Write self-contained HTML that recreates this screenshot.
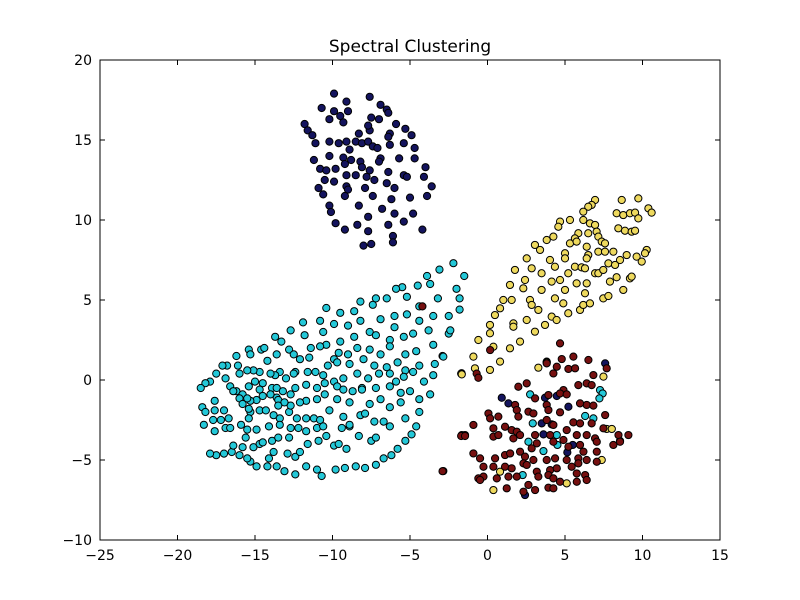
<!DOCTYPE html>
<html><head><meta charset="utf-8"><style>
html,body{margin:0;padding:0;background:#fff;}
svg{display:block;font-family:"DejaVu Sans","Liberation Sans",sans-serif;}
</style></head><body>
<svg id="chart" width="800" height="600">
<rect x="0" y="0" width="800" height="600" fill="#fff"/>
<text x="410" y="52" text-anchor="middle" font-size="17">Spectral Clustering</text>
<g id="ticks"></g>
<g id="points"></g>
<rect x="100" y="60" width="620" height="480" fill="none" stroke="#000" stroke-width="1"/>
</svg>
<script>
const xTicks=[-25,-20,-15,-10,-5,0,5,10,15];
const yTicks=[-10,-5,0,5,10,15,20];
const colors=["#14145e","#24c8d8","#eed95e","#761010"];
const navyPts=[[-9.9,17.9],[-7.6,17.7],[-6.9,17.2],[-10.7,17.0],[-9.1,17.4],[-9.9,16.8],[-9.0,16.8],[-9.5,16.5],[-9.3,16.1],[-10.2,16.3],[-7.5,16.4],[-7.0,16.3],[-6.5,16.9],[-6.4,16.7],[-11.8,16.0],[-11.6,15.6],[-11.3,15.3],[-11.1,14.8],[-10.2,14.9],[-9.6,14.8],[-9.1,14.9],[-8.5,14.9],[-8.1,14.8],[-7.7,14.9],[-7.4,14.6],[-7.1,14.5],[-8.9,14.4],[-8.3,15.4],[-7.6,15.6],[-7.7,15.9],[-6.3,15.4],[-6.4,15.2],[-5.9,16.0],[-5.3,15.7],[-4.9,15.3],[-6.3,14.7],[-5.4,14.8],[-4.7,14.5],[-11.2,13.75],[-10.2,14.0],[-9.3,13.9],[-8.8,13.75],[-8.2,13.65],[-8.1,13.3],[-9.2,13.5],[-6.9,13.85],[-7.0,13.65],[-5.7,13.85],[-4.7,13.85],[-10.8,13.2],[-10.4,13.1],[-9.8,13.2],[-7.6,13.1],[-6.4,13.0],[-5.4,12.8],[-5.2,12.7],[-4.0,13.3],[-4.1,12.7],[-10.5,12.5],[-9.9,12.4],[-9.1,12.8],[-8.5,12.8],[-7.8,12.7],[-7.3,12.5],[-6.5,12.3],[-6.0,12.0],[-3.6,12.1],[-10.9,12.0],[-9.1,12.1],[-9.0,11.9],[-7.9,12.0],[-10.6,11.6],[-9.2,11.5],[-7.4,11.5],[-6.2,11.3],[-5.0,11.4],[-3.9,11.5],[-10.2,10.9],[-8.3,10.9],[-6.8,10.7],[-10.1,10.5],[-7.7,10.2],[-6.0,10.4],[-4.8,10.4],[-9.8,9.8],[-9.2,9.4],[-8.4,9.7],[-7.7,9.3],[-6.4,9.7],[-5.4,9.9],[-4.2,9.4],[-6.1,9.0],[-6.1,8.6],[-8.0,8.4],[-7.5,8.5],
[0.92,-1.11],[1.35,-1.46],[3.71,-1.11],[4.47,-1.0],[5.22,-1.67],[3.5,-2.71],[4.14,-2.77],[3.61,-3.4],[5.5,-4.06],[5.15,-4.52],[2.42,-7.19],[7.59,1.04],[8.55,-3.81]];
const yellowPts=[[6.94,11.25],[8.66,11.25],[9.73,11.35],[6.72,10.94],[6.5,10.83],[6.18,10.52],[8.33,10.42],[8.76,10.31],[9.19,10.42],[9.52,10.46],[9.73,10.1],[10.38,10.73],[10.59,10.46],[4.68,9.9],[5.32,10.0],[6.18,10.0],[6.61,9.79],[6.94,9.69],[4.57,9.58],[8.44,9.48],[8.87,9.33],[9.3,9.27],[9.52,9.33],[5.86,9.17],[6.5,9.17],[7.04,9.27],[7.15,8.96],[3.82,8.75],[4.25,8.96],[5.32,8.54],[5.64,8.85],[5.75,8.65],[7.37,8.65],[7.58,8.54],[3.06,8.44],[3.39,8.13],[6.4,8.33],[7.15,8.02],[7.58,8.02],[8.12,8.02],[10.27,8.13],[10.16,7.92],[5.0,7.92],[5.0,7.6],[6.5,7.81],[6.4,7.6],[8.98,7.81],[9.62,7.71],[9.95,7.4],[8.55,7.5],[2.53,7.6],[4.03,7.5],[7.8,7.29],[8.23,7.19],[1.77,6.88],[2.85,6.98],[4.35,7.08],[5.64,7.08],[6.07,7.04],[6.29,6.98],[5.21,6.67],[6.94,6.67],[7.15,6.67],[7.47,6.88],[3.49,6.67],[2.42,6.25],[4.68,6.25],[4.14,6.15],[1.45,5.94],[2.31,5.73],[3.49,5.63],[5.0,5.63],[5.75,6.04],[6.4,6.04],[7.9,6.15],[8.33,6.42],[9.19,6.35],[9.3,6.46],[8.76,5.63],[1.02,5.0],[1.56,5.0],[2.74,5.0],[4.35,5.1],[4.89,4.79],[6.29,5.42],[7.47,5.1],[7.8,5.25],[0.81,4.48],[2.85,4.69],[3.28,4.38],[5.21,4.17],[5.97,4.38],[6.18,4.69],[6.61,4.79],[0.48,4.06],[2.53,3.75],[4.14,3.96],[4.46,3.75],[0.16,3.44],[1.67,3.54],[1.67,3.33],[3.71,3.44],[0.16,2.92],[3.06,3.02],[-0.59,2.5],[2.1,2.4],[1.45,1.98],[0.38,2.08],[-0.91,1.46],[0.81,1.15],[0.16,0.63],[-1.67,0.42],[-0.81,0.73],[3.82,1.15],
[-1.7,0.4],[7.48,0.21],[7.69,-3.06],[8.02,-3.06],[7.37,-5.0],[0.81,-5.73],[0.38,-6.88],[5.11,-6.46],[3.28,0.77],[3.82,1.1],[-1.66,0.35]];
const cyanPts=[[-2.2,7.3],[-3.1,6.9],[-1.5,6.5],[-3.9,6.5],[-3.7,6.0],[-4.5,5.9],[-5.5,5.8],[-5.9,5.7],[-2.0,5.7],[-10.4,4.5],[-9.5,4.2],[-8.6,4.3],[-8.2,4.9],[-7.4,4.7],[-7.2,5.1],[-6.5,5.1],[-5.2,5.2],[-6.0,4.0],[-5.2,4.1],[-4.4,4.6],[-3.2,5.1],[-1.8,5.1],[-1.8,4.4],[-2.5,4.0],[-3.5,4.0],[-4.4,3.7],[-6.9,3.8],[-8.2,3.7],[-9.0,3.4],[-9.9,3.5],[-10.8,3.7],[-11.9,3.6],[-12.7,3.1],[-13.7,2.7],[-13.3,2.4],[-11.8,2.8],[-10.6,3.0],[-9.5,2.4],[-8.6,2.7],[-7.6,3.0],[-7.2,2.8],[-6.0,3.3],[-5.4,2.7],[-4.8,2.9],[-3.8,3.1],[-2.5,2.9],[-2.4,3.1],[-3.5,2.2],[-4.6,1.8],[-5.3,1.6],[-6.3,2.5],[-6.3,2.1],[-6.9,1.6],[-7.6,1.9],[-8.4,2.0],[-9.0,1.6],[-9.6,1.7],[-10.4,2.2],[-10.8,2.1],[-11.4,2.0],[-12.8,1.9],[-13.6,1.6],[-14.6,1.9],[-14.4,2.0],[-15.4,1.9],[-15.3,1.6],[-16.2,1.5],[-14.2,1.2],[-12.5,1.6],[-12.1,1.3],[-11.5,1.4],[-10.3,0.9],[-9.9,1.3],[-9.7,1.1],[-8.9,1.0],[-8.0,1.3],[-7.3,0.9],[-6.5,0.8],[-5.8,1.1],[-5.3,0.6],[-4.4,0.9],[-3.4,1.0],[-2.9,1.5],[-3.5,0.3],[-4.1,-0.1],[-4.8,0.5],[-5.4,0.2],[-5.9,-0.1],[-6.3,0.4],[-7.0,0.4],[-7.7,0.1],[-8.4,0.4],[-9.3,0.1],[-9.9,-0.1],[-10.6,0.3],[-11.1,0.5],[-11.6,0.5],[-12.4,0.5],[-12.5,0.4],[-13.4,0.5],[-13.7,0.3],[-14.0,0.4],[-14.7,0.5],[-15.1,0.6],[-15.5,0.6],[-16.0,0.4],[-16.8,0.9],[-17.1,0.9],[-16.1,0.9],[-16.9,0.1],[-17.5,0.4],[-17.9,-0.1],[-18.2,-0.2],[-18.5,-0.5],[-16.6,-0.4],[-16.2,-0.7],[-15.8,-0.9],[-15.4,-0.4],[-15.0,-0.1],[-14.5,-0.2],[-14.7,-0.6],[-13.9,-0.5],[-13.6,-0.5],[-13.0,0.1],[-12.4,-0.5],[-11.7,-0.3],[-11.0,-0.5],[-10.5,-0.2],[-9.7,-0.4],[-9.3,-0.6],[-8.7,-0.7],[-8.1,-0.5],[-7.2,-0.5],[-6.3,-0.4],[-5.6,-0.8],[-5.0,-0.7],[-3.7,-0.9],[-4.4,-1.2],[-5.6,-1.4],[-6.3,-1.7],[-6.9,-1.2],[-7.6,-1.5],[-8.1,-0.6],[-8.9,-1.4],[-9.7,-1.2],[-10.5,-0.9],[-11.0,-1.2],[-11.7,-1.3],[-12.1,-1.4],[-12.7,-0.9],[-13.2,-0.7],[-13.6,-1.1],[-14.0,-0.9],[-14.5,-1.0],[-14.9,-1.25],[-15.3,-1.3],[-15.5,-1.15],[-17.6,-1.3],[-18.4,-1.7],[-18.2,-2.0],[-17.6,-1.9],[-17.0,-1.9],[-16.7,-2.4],[-17.2,-2.5],[-17.7,-2.5],[-18.3,-2.8],[-17.6,-3.2],[-16.9,-3.0],[-15.3,-2.0],[-15.4,-2.4],[-14.7,-1.9],[-14.3,-1.9],[-13.8,-2.2],[-13.4,-2.4],[-12.8,-2.0],[-12.7,-1.6],[-12.3,-2.4],[-11.7,-2.4],[-11.2,-2.4],[-10.8,-2.5],[-10.2,-1.9],[-9.3,-2.3],[-8.9,-2.9],[-8.2,-2.2],[-7.9,-2.1],[-7.3,-2.6],[-6.7,-2.6],[-6.3,-2.9],[-5.3,-2.4],[-4.4,-2.0],[-4.6,-2.9],[-4.9,-3.4],[-5.3,-3.8],[-5.8,-4.3],[-6.2,-4.7],[-6.7,-4.9],[-7.2,-5.3],[-7.9,-5.5],[-8.5,-5.4],[-9.2,-5.5],[-9.8,-5.6],[-10.7,-6.0],[-11.0,-5.6],[-11.7,-5.4],[-12.4,-5.9],[-13.1,-5.7],[-13.6,-5.4],[-14.2,-5.4],[-14.1,-4.9],[-14.9,-5.4],[-15.3,-5.1],[-15.5,-4.9],[-16.0,-4.7],[-16.5,-4.5],[-17.0,-4.6],[-17.5,-4.7],[-17.9,-4.6],[-16.4,-4.1],[-15.8,-4.2],[-15.6,-3.6],[-15.5,-3.1],[-15.1,-4.2],[-14.7,-4.0],[-14.5,-3.9],[-13.9,-3.8],[-13.8,-4.5],[-13.5,-3.6],[-12.8,-3.6],[-12.9,-4.6],[-12.4,-4.8],[-12.1,-4.5],[-11.6,-4.0],[-10.9,-3.8],[-10.4,-3.5],[-9.9,-4.1],[-9.6,-4.0],[-9.1,-4.3],[-8.3,-3.5],[-7.5,-3.8],[-7.2,-3.6],[-13.4,-2.8],[-12.7,-3.0],[-12.2,-3.0],[-11.7,-3.2],[-14.1,-2.9],[-14.9,-3.1],[-15.9,-2.8],[-16.6,-3.0],[-16.4,-0.7],[-16.0,-1.15],[-15.8,-1.5],[-15.4,-1.8],[-13.5,-1.25],[-13.1,-1.4],[-13.5,-1.6],[-11.0,-3.0],[-10.6,-2.9],[-9.4,-3.0],[-8.9,-2.8],
[2.75,-0.9],[7.26,-0.63],[7.43,-0.84],[7.22,-1.15],[6.3,-2.25],[6.83,-2.4],[2.92,-2.71],[4.47,-3.44],[2.64,-3.86],[4.51,-4.06],[3.61,-4.44],[2.27,-5.94],[-2.85,1.46]];
const maroonPts=[[4.68,2.29],[0.17,1.87],[-0.7,0.4],[-0.59,0.14],[4.79,1.31],[5.54,1.46],[3.82,1.04],[4.47,0.83],[5.22,0.69],[5.65,0.73],[6.51,1.25],[7.69,0.73],[6.83,0.31],[4.25,0.41],[2.53,-0.21],[1.99,-0.42],[5.86,-0.32],[6.4,-0.21],[6.72,-0.32],[4.9,-0.63],[4.68,-0.84],[3.93,-0.94],[5.11,-0.9],[3.07,-1.15],[1.78,-1.56],[1.89,-1.88],[3.82,-1.56],[3.93,-1.88],[6.4,-1.56],[6.83,-1.6],[5.97,-1.46],[7.59,-2.19],[0.06,-2.09],[0.17,-2.4],[0.7,-2.29],[1.99,-2.29],[2.64,-1.98],[2.96,-2.09],[4.68,-2.02],[5.54,-2.65],[5.97,-2.71],[6.72,-2.71],[-0.91,-2.81],[-1.66,-3.44],[-1.45,-3.44],[0.38,-3.02],[1.13,-2.92],[1.56,-3.13],[1.89,-3.23],[3.82,-2.5],[4.25,-2.81],[5.11,-3.13],[5.76,-3.44],[6.4,-3.44],[6.94,-3.65],[7.05,-3.86],[7.48,-3.02],[8.12,-4.06],[8.45,-3.44],[0.38,-3.54],[0.7,-3.44],[1.67,-3.65],[2.1,-3.44],[3.07,-3.44],[3.18,-3.96],[4.04,-3.44],[4.25,-3.86],[4.9,-3.75],[5.22,-4.17],[5.97,-4.06],[6.19,-4.48],[7.05,-4.48],[7.05,-5.11],[-0.91,-4.59],[-0.48,-4.9],[0.49,-4.9],[1.13,-4.69],[1.46,-4.59],[2.1,-4.48],[2.42,-4.79],[2.85,-4.27],[2.96,-5.0],[3.82,-5.0],[4.36,-4.9],[5.11,-5.0],[5.86,-4.9],[5.86,-5.21],[6.4,-5.0],[-0.26,-5.42],[0.38,-5.42],[1.13,-5.42],[1.56,-5.52],[2.32,-5.21],[2.53,-5.31],[3.18,-5.73],[4.04,-5.63],[4.47,-5.52],[5.43,-5.42],[5.76,-5.84],[6.3,-5.94],[-0.59,-6.15],[-0.26,-6.04],[0.6,-6.15],[1.35,-6.04],[1.89,-6.04],[3.28,-6.04],[3.93,-5.94],[4.25,-6.15],[4.68,-6.36],[5.76,-6.36],[6.4,-6.25],[-0.48,-6.25],[1.24,-6.77],[3.07,-6.88],[2.64,-6.56],[3.93,-6.73],[4.25,-6.77],[2.32,-6.98],[-2.85,-5.69],[9.09,-3.44],[8.55,-3.86],
[-4.2,4.6],[-1.7,-3.5],[-1.45,-3.5],[-2.9,-5.7]];

const X0=100,X1=720,Y0=540,Y1=60;
const xMin=-25,xMax=15,yMin=-10,yMax=20;
function sx(v){return X0+(v-xMin)/(xMax-xMin)*(X1-X0);}
function sy(v){return Y0-(v-yMin)/(yMax-yMin)*(Y0-Y1);}
const NS="http://www.w3.org/2000/svg";
const tg=document.getElementById('ticks');
function mk(tag,attrs,parent){const e=document.createElementNS(NS,tag);for(const k in attrs)e.setAttribute(k,attrs[k]);parent.appendChild(e);return e;}
xTicks.forEach(t=>{
  const x=sx(t);
  const a=mk('line',{x1:x,x2:x,y1:Y0,y2:Y0-5,stroke:'#000'},tg);
  
  
  mk('line',{x1:x,x2:x,y1:Y1,y2:Y1+5,stroke:'#000'},tg);
  const l=mk('text',{x:x,y:Y0+20,'text-anchor':'middle','font-size':'14'},tg);
  l.textContent=(t<0?'\u2212':'')+Math.abs(t);
  
  
});
yTicks.forEach(t=>{
  const y=sy(t);
  const a=mk('line',{x1:X0,x2:X0+5,y1:y,y2:y,stroke:'#000'},tg);
  
  
  mk('line',{x1:X1,x2:X1-5,y1:y,y2:y,stroke:'#000'},tg);
  const l=mk('text',{x:X0-8,y:y+5,'text-anchor':'end','font-size':'14'},tg);
  l.textContent=(t<0?'\u2212':'')+Math.abs(t);
  
  
});
const pg=document.getElementById('points');
const groups=[[cyanPts,1,'cyan-cluster-point'],[yellowPts,2,'yellow-cluster-point'],[navyPts,0,'navy-cluster-point'],[maroonPts,3,'maroon-cluster-point']];
groups.forEach(g=>{
  g[0].forEach(p=>{
    const c=mk('circle',{cx:sx(p[0]),cy:sy(p[1]),r:3.6,fill:colors[g[1]],stroke:'#000','stroke-width':1},pg);
    
    
  });
});
</script>
</body></html>
